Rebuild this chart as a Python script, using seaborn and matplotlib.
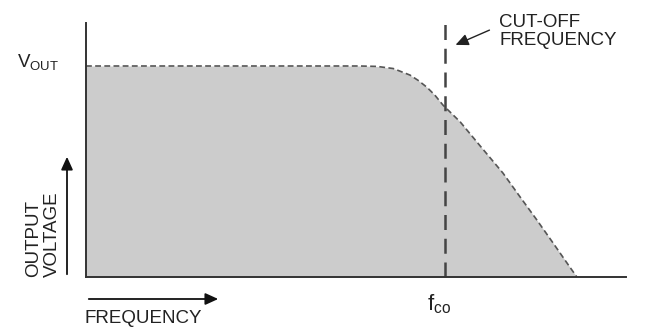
import matplotlib
matplotlib.use("Agg")
import matplotlib.pyplot as plt
import seaborn as sns
import pandas as pd

# ---- data ----
frequency = [0.0, 5.07, 5.39, 5.69, 5.85, 6.00, 6.15, 6.31, 6.46, 6.61, 6.93, 7.30,
             7.72, 8.04, 8.35, 8.65, 8.96, 9.09]
output_voltage = [1.0, 1.0, 0.998, 0.988, 0.972, 0.957, 0.932, 0.900, 0.862, 0.815,
                  0.735, 0.621, 0.493, 0.379, 0.270, 0.161, 0.047, 0.0]
cutoff_frequency = 6.65

df = pd.DataFrame({"frequency": frequency, "voltage": output_voltage})

sns.set_style("white")
plt.rcParams["font.family"] = ["Liberation Sans", "DejaVu Sans"]
plt.rcParams["mathtext.fontset"] = "custom"
plt.rcParams["mathtext.rm"] = "Liberation Sans"
plt.rcParams["mathtext.it"] = "Liberation Sans"

W, H = 659, 333
fig = plt.figure(figsize=(W / 100, H / 100), dpi=100)

def fx(px):
    return px / W

def fy(py):
    return 1 - py / H

ax = fig.add_axes([fx(86), fy(277), fx(626) - fx(86), fy(23) - fy(277)])
ax.set_xlim(0, 10)
ax.set_ylim(0, 254 / 211)

ax.fill_between(df["frequency"], df["voltage"], 0, color="#cccccc", linewidth=0, zorder=1)
sns.lineplot(data=df, x="frequency", y="voltage", ax=ax, color="#555555",
             linewidth=1.2, dashes=False, zorder=2, sort=False)
ax.lines[-1].set_linestyle((0, (3.5, 2)))

ax.axvline(cutoff_frequency, color="#444444", linewidth=1.8,
           linestyle=(0, (6, 3.5)), zorder=3)

for s in ["top", "right"]:
    ax.spines[s].set_visible(False)
for s in ["left", "bottom"]:
    ax.spines[s].set_color("#333333")
    ax.spines[s].set_linewidth(1.4)
    ax.spines[s].set_zorder(4)
ax.set_xticks([])
ax.set_yticks([])
ax.set_xlabel("")
ax.set_ylabel("")

txt = "#222222"
fs = 13.5

# V_OUT label
fig.text(fx(17), fy(67), r"V$_{\mathrm{OUT}}$", fontsize=fs, color=txt, ha="left", va="baseline")

# OUTPUT VOLTAGE rotated label
fig.text(fx(61), fy(277), "OUTPUT\nVOLTAGE", fontsize=fs, color=txt, rotation=90,
         ha="right", va="bottom", multialignment="left", linespacing=1.12)

arrow_kw = dict(arrowstyle="-|>,head_length=0.55,head_width=0.25", color="#111111",
                linewidth=1.3, mutation_scale=14)
# vertical arrow
fig.add_artist(matplotlib.patches.FancyArrowPatch(
    (fx(67), fy(277)), (fx(67), fy(154)), transform=fig.transFigure, **arrow_kw))
# horizontal arrow
fig.add_artist(matplotlib.patches.FancyArrowPatch(
    (fx(86), fy(299)), (fx(221), fy(299)), transform=fig.transFigure, **arrow_kw))

fig.text(fx(85), fy(323), "FREQUENCY", fontsize=fs, color=txt, ha="left", va="baseline")

# f_co
fig.text(fx(427), fy(310), r"f$_{\mathrm{co}}$", fontsize=16, color=txt, ha="left", va="baseline")

# cut-off label and arrow
fig.text(fx(499), fy(45), "CUT-OFF\nFREQUENCY", fontsize=fs, color=txt, ha="left",
         va="baseline", linespacing=1.05)
fig.add_artist(matplotlib.patches.FancyArrowPatch(
    (fx(492), fy(29)), (fx(453), fy(46)), transform=fig.transFigure,
    arrowstyle="-|>,head_length=0.55,head_width=0.25", color="#222222",
    linewidth=1.0, mutation_scale=14))

fig.savefig("out.png", dpi=100, facecolor="white")
